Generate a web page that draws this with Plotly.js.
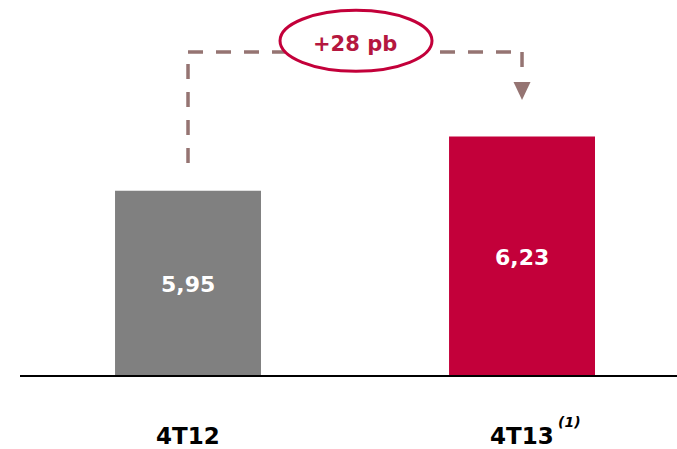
<!DOCTYPE html>
<html>
<head>
<meta charset="utf-8">
<script src="https://cdn.plot.ly/plotly-3.0.1.min.js"></script>
<style>html,body{margin:0;padding:0;background:#fff;}#chart{width:677px;height:449px;}</style>
</head>
<body>
<div id="chart"></div>
<script>
// Data
const categories = ["4T12", "4T13"];
const values = [5.95, 6.23];
const barColors = ["#808080", "#C3003A"];
const changeLabel = "+28 pb";
const footnote = "(1)";

const fmt = v => v.toFixed(2).replace(".", ",");
const FONT = "DejaVu Sans, Arial, sans-serif";
const dashColor = "#957472";

const trace = {
  type: "bar",
  x: categories,
  y: values,
  width: 0.437,
  marker: { color: barColors, line: { width: 0 } },
  hoverinfo: "skip"
};

const annotations = [];
categories.forEach((c, i) => {
  annotations.push({
    x: c, y: (values[i] + 5) / 2, xref: "x", yref: "y",
    text: "<b>" + fmt(values[i]) + "</b>", showarrow: false,
    yshift: -2,
    font: { family: FONT, size: 22, color: "#ffffff" }
  });
  annotations.push({
    x: c, y: -0.163, xref: "x", yref: "paper",
    text: "<b>" + c + "</b>", showarrow: false, yanchor: "middle",
    font: { family: FONT, size: 23, color: "#000000" }
  });
});
annotations.push({
  x: categories[1], y: -0.126, xref: "x", yref: "paper", xshift: 47,
  text: "<b><i>" + footnote + "</i></b>", showarrow: false, yanchor: "middle",
  font: { family: FONT, size: 14, color: "#000000" }
});
annotations.push({
  x: 0.5, y: 6.708, xref: "x", yref: "y",
  text: "<b>" + changeLabel + "</b>", showarrow: false, yanchor: "middle",
  font: { family: FONT, size: 21, color: "#B5173F" }
});

const yTop = 6.665;
const dashLine = { color: dashColor, width: 3.5, dash: "15px,13px" };
const shapes = [
  { type: "line", xref: "x", yref: "y", x0: 0, x1: 0, y0: 6.093, y1: yTop, line: dashLine, layer: "above" },
  { type: "line", xref: "x", yref: "y", x0: 0, x1: 1, y0: yTop, y1: yTop, line: dashLine, layer: "above" },
  { type: "line", xref: "x", yref: "y", x0: 1, x1: 1, y0: yTop, y1: 6.572, line: dashLine, layer: "above" },
  { type: "path", xref: "x", yref: "y", xsizemode: "pixel", xanchor: 1,
    path: "M -8.5,6.510 L 8.5,6.510 L 0,6.418 Z",
    fillcolor: dashColor, line: { width: 0 }, layer: "above" },
  { type: "circle", xref: "x", yref: "y", xsizemode: "pixel", ysizemode: "pixel",
    xanchor: 0.5, yanchor: 6.72, x0: -75, x1: 77, y0: -30, y1: 31,
    fillcolor: "#ffffff", line: { color: "#C3003A", width: 3 }, layer: "above" }
];

const layout = {
  width: 677, height: 449,
  margin: { l: 20, r: 0, t: 0, b: 74, pad: 0 },
  paper_bgcolor: "#ffffff", plot_bgcolor: "#ffffff",
  showlegend: false,
  xaxis: {
    type: "category", range: [-0.503, 1.464],
    showticklabels: false, ticks: "", showgrid: false, zeroline: false,
    showline: true, linecolor: "#000000", linewidth: 1.5, fixedrange: true
  },
  yaxis: { range: [5, 6.933], visible: false, showgrid: false, zeroline: false, fixedrange: true },
  annotations: annotations,
  shapes: shapes
};

Plotly.newPlot("chart", [trace], layout, { displayModeBar: false, staticPlot: true });
</script>
</body>
</html>
